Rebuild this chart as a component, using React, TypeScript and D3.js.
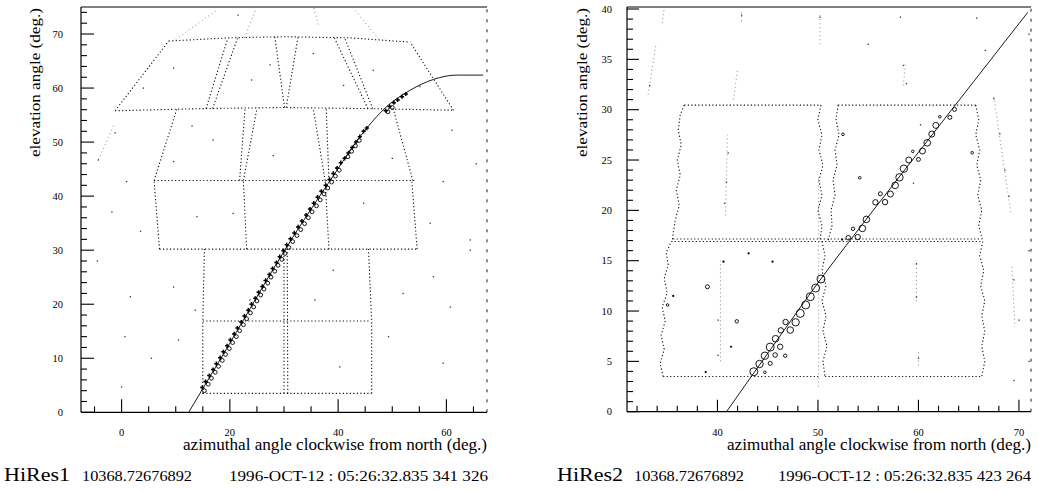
import React from 'react';
import * as d3 from 'd3';

type Pt = [number, number];
type Circ = [number, number, number];

const W = 1039;
const H = 492;

// ---------- Left panel (HiRes1) data ----------
const leftXTickLabels = [0, 20, 40, 60];
const leftYTickLabels = [0, 10, 20, 30, 40, 50, 60, 70];

const leftFit: Pt[] = [
  [12.4, 0], [20, 12.8], [30.5, 30.6], [38.2, 42.4], [45.3, 52.6], [49, 56.6],
  [53.3, 59.6], [57.6, 61.6], [61.9, 62.4], [66.8, 62.4],
];

const leftTrackCircles: Pt[] = [
  [15.3, 4.0], [16.0, 5.2], [16.6, 6.3], [17.3, 7.4], [17.9, 8.5], [18.6, 9.6], [19.2, 10.7],
  [19.9, 11.8], [20.5, 12.9], [21.2, 14.0], [21.8, 15.1], [22.5, 16.2], [23.1, 17.3], [23.8, 18.4],
  [24.4, 19.5], [25.0, 20.6], [25.7, 21.7], [26.3, 22.8], [27.0, 23.9], [27.6, 25.0], [28.3, 26.1],
  [28.9, 27.2], [29.6, 28.3], [30.2, 29.4], [30.9, 30.5], [31.6, 31.6], [32.4, 32.7], [33.1, 33.8],
  [33.8, 34.9], [34.5, 36.0], [35.2, 37.1], [36.0, 38.2], [36.7, 39.3], [37.4, 40.4], [38.1, 41.5],
  [38.8, 42.6], [39.5, 43.7], [40.2, 44.8], [41.8, 47.3], [42.5, 48.3], [43.2, 49.3], [43.9, 50.3],
  [49.2, 55.6], [50.0, 56.4],
];

const leftTrackCrosses: Pt[] = [
  [14.9, 4.6], [15.5, 5.7], [16.2, 6.8], [16.9, 7.9], [17.5, 9.0], [18.2, 10.1], [18.8, 11.2],
  [19.5, 12.3], [20.1, 13.4], [20.8, 14.5], [21.4, 15.6], [22.1, 16.7], [22.7, 17.8], [23.4, 18.9],
  [24.0, 20.0], [24.7, 21.1], [25.3, 22.2], [26.0, 23.3], [26.6, 24.4], [27.3, 25.5], [27.9, 26.6],
  [28.6, 27.7], [29.2, 28.8], [29.9, 29.9], [30.5, 31.0], [31.2, 32.1], [31.9, 33.2], [32.6, 34.3],
  [33.3, 35.4], [34.1, 36.5], [34.8, 37.6], [35.5, 38.7], [36.2, 39.8], [36.9, 40.9], [37.7, 42.0],
  [38.4, 43.1], [39.1, 44.2], [39.8, 45.2], [40.5, 46.2], [41.2, 47.0], [41.9, 48.0], [42.6, 49.0],
  [43.3, 50.0], [44.0, 51.0], [44.7, 52.0], [45.3, 52.6],
  [48.8, 55.8], [49.5, 56.6], [50.3, 57.3], [51.0, 57.8], [51.8, 58.4], [52.5, 58.9],
];

const leftMirrors: Pt[][] = [
  // lower two rows
  [[15.0, 3.5], [46.2, 3.5]],
  [[15.0, 3.5], [15.0, 16.9], [15.3, 30.2]],
  [[15.0, 16.9], [46.0, 16.9]],
  [[46.2, 3.5], [46.2, 16.9], [45.6, 30.2]],
  [[30.0, 3.5], [30.0, 30.2]],
  [[30.7, 3.5], [30.6, 30.2]],
  // row 30-43
  [[7.0, 30.2], [54.6, 30.2]],
  [[7.0, 30.2], [6.0, 42.9]],
  [[54.6, 30.2], [53.6, 42.9]],
  [[6.0, 42.9], [54.1, 42.9]],
  [[23.1, 30.2], [22.5, 42.9]],
  [[38.3, 30.2], [37.6, 42.9]],
  // row 43-56
  [[6.0, 42.9], [10.2, 56.1]],
  [[53.8, 42.9], [50.2, 56.1]],
  [[22.5, 42.9], [25.0, 56.2]],
  [[21.8, 42.9], [22.8, 56.2]],
  [[37.6, 42.9], [35.4, 56.2]],
  [[38.3, 42.9], [37.8, 56.2]],
  // row 56-69
  [[-1.2, 55.8], [15, 56.2], [30, 56.4], [45, 56.2], [61.3, 55.9]],
  [[8.7, 68.7], [20, 69.3], [30, 69.5], [42, 69.3], [53.3, 68.5]],
  [[-1.2, 55.8], [8.7, 68.7]],
  [[61.3, 55.9], [53.3, 68.5]],
  [[15.6, 56.2], [19.6, 69.2]],
  [[16.8, 56.2], [21.4, 69.2]],
  [[30.1, 56.4], [28.3, 69.5]],
  [[30.4, 56.4], [32.6, 69.5]],
  [[45.5, 56.2], [39.3, 69.3]],
  [[46.4, 56.2], [41.2, 69.3]],
];

const leftFaint: Pt[][] = [
  [[10.0, 69.0], [17.8, 74.6]],
  [[22.7, 69.3], [24.8, 74.6]],
  [[35.5, 74.8], [36.4, 71.5]],
  [[47.5, 69.0], [43.0, 74.6]],
  [[-1.5, 53.0], [-4.3, 46.7]],
];

const leftNoise: Pt[] = [
  [21.5, 73.5], [9.6, 63.7], [-1.2, 51.7], [-4.3, 46.7], [0.9, 42.7], [-1.8, 37.1], [13.9, 36.2],
  [27.4, 64.3], [35.4, 66.4], [46.5, 63.3], [55.1, 60.3], [59.4, 42.7], [64.4, 31.9], [61.0, 52.2],
  [44.7, 38.7], [20.6, 36.8], [16.9, 50.4], [9.6, 46.4], [1.6, 21.4], [0.6, 14.0], [0.0, 4.7],
  [10.5, 13.4], [13.6, 18.9], [39.1, 26.3], [49.3, 14.0], [57.6, 25.1], [59.4, 9.1], [40.3, 8.4],
  [64.4, 30.0], [35.7, 20.8], [23.7, 20.8], [9.6, 23.2], [60.7, 19.5], [4.0, 60.0], [24.0, 61.5],
  [41.0, 60.5], [50.0, 47.0], [28.0, 47.5], [13.0, 53.0], [57.0, 35.0], [-4.5, 28.0], [3.5, 33.5],
  [65.5, 46.0], [52.0, 22.0], [5.5, 10.0],
];

// ---------- Right panel (HiRes2) data ----------
const rightXTickLabels = [40, 50, 60, 70];
const rightYTickLabels = [0, 5, 10, 15, 20, 25, 30, 35, 40];

const rightFit: Pt[] = [
  [40.9, 0], [45.5, 6.5], [50.3, 13.2], [55.5, 20.0], [60.5, 26.4], [65.5, 32.8], [70.87, 39.66],
];

const rightCircles: Circ[] = [
  [43.62, 3.97, 4], [44.19, 4.74, 3.7], [44.72, 5.56, 3.7], [45.25, 6.42, 4], [45.78, 7.25, 3.3],
  [46.24, 6.45, 2.7], [46.31, 8.08, 2.7], [46.78, 8.91, 2.7], [47.24, 8.11, 3.3], [47.78, 8.88, 3.7],
  [48.24, 9.77, 4], [48.78, 10.6, 4], [49.24, 11.42, 4], [49.77, 12.28, 4], [50.3, 13.18, 4],
  [45.25, 4.8, 2], [45.74, 5.63, 2.3], [46.74, 5.56, 1.7], [44.72, 3.91, 1.3], [41.92, 8.98, 1.7],
  [39.0, 12.41, 2], [35.04, 10.6, 1.3],
  [53.02, 17.28, 2.3], [53.49, 18.17, 1.7], [53.96, 17.35, 2.7], [54.42, 18.21, 3.3], [54.82, 19.1, 3.3],
  [55.72, 20.8, 2.7], [56.21, 21.65, 2], [56.68, 20.82, 2.7], [57.21, 21.62, 3], [57.68, 22.48, 3.3],
  [58.11, 23.28, 3.7], [58.55, 24.14, 3.7], [59.04, 25.0, 3], [60.0, 25.06, 2], [59.44, 25.86, 1.3],
  [60.4, 25.89, 3], [60.87, 26.71, 3.3], [61.33, 27.58, 3], [61.73, 28.44, 3], [62.13, 29.3, 1.3],
  [63.13, 29.24, 2], [63.59, 30.03, 2],
  [52.49, 27.55, 1.3], [54.16, 23.24, 1.3], [65.35, 25.72, 1.3],
];

const rightDots: Pt[] = [
  [35.6, 11.5], [41.36, 6.45], [38.83, 3.94], [40.6, 14.9], [43.1, 15.73], [45.48, 14.9], [52.4, 17.1],
];

const rightMirrors: Pt[][] = [
  // lower-left box
  [[34.6, 3.5], [50.1, 3.5]],
  [[34.6, 3.5], [34.3, 4.8], [34.7, 6.2], [34.4, 7.6], [34.8, 9.0], [34.5, 10.4], [35.0, 11.8], [34.7, 13.2], [35.1, 14.6], [34.9, 15.8], [35.4, 16.9]],
  // lower-right box
  [[50.7, 3.5], [66.3, 3.5]],
  [[50.4, 16.9], [50.7, 15.5], [50.4, 14], [50.8, 12.5], [50.4, 11], [50.8, 9.5], [50.5, 8], [50.9, 6.5], [50.5, 5], [50.7, 3.5]],
  [[66.4, 16.9], [66.1, 15.5], [66.5, 14], [66.2, 12.5], [66.6, 11], [66.3, 9.5], [66.6, 8], [66.3, 6.5], [66.6, 5], [66.3, 3.5]],
  // shared middle line
  [[35.4, 16.9], [66.4, 16.9]],
  [[35.6, 17.15], [66.2, 17.15]],
  // upper-left box
  [[36.7, 30.45], [50.3, 30.45]],
  [[36.7, 30.45], [36.3, 29.5], [36.1, 28], [36.4, 26.5], [36.0, 25], [36.3, 23.5], [35.9, 22], [36.2, 20.5], [35.8, 19], [35.6, 17.8], [35.5, 16.9]],
  [[50.3, 30.45], [50.0, 29], [50.4, 27.5], [50.1, 26], [50.5, 24.5], [50.1, 23], [50.4, 21.5], [50.0, 20], [50.4, 18.5], [50.2, 16.9]],
  // upper-right box
  [[52.0, 30.45], [65.7, 30.45]],
  [[52.0, 30.45], [51.8, 29], [52.1, 27.5], [51.7, 26], [51.9, 24.5], [51.5, 23], [51.7, 21.5], [51.3, 20], [51.4, 18.5], [51.0, 16.9]],
  [[65.7, 30.45], [66.0, 29], [65.7, 27.5], [66.1, 26], [65.8, 24.5], [66.2, 23], [65.9, 21.5], [66.3, 20], [66.0, 18.5], [66.4, 16.9]],
];

const rightFaint: Pt[][] = [
  [[50.07, 2.5], [50.07, 23.5]],
  [[40.3, 5.0], [40.3, 15.0]],
  [[40.8, 19.5], [41.0, 27.5]],
  [[41.6, 31.0], [42.0, 34.0]],
  [[42.4, 38.8], [42.4, 39.8]],
  [[33.1, 31.5], [33.9, 36.6]],
  [[34.5, 38.6], [34.7, 40.0]],
  [[58.5, 32.4], [58.7, 34.6]],
  [[59.8, 11.0], [59.8, 15.0]],
  [[60.0, 4.6], [60.0, 6.0]],
  [[67.5, 31.3], [69.2, 19.7]],
  [[69.3, 14.4], [69.6, 8.4]],
  [[50.2, 36.5], [50.2, 39.5]],
];

const rightNoise: Pt[] = [
  [33.25, 32.4], [42.4, 39.4], [50.2, 39.2], [58.2, 39.2], [58.8, 32.6], [65.8, 39.1], [66.65, 35.9],
  [67.5, 31.1], [68.1, 27.6], [68.6, 24.0], [69.0, 21.4], [59.5, 22.7], [40.9, 22.8], [41.06, 25.7],
  [40.7, 20.7], [58.5, 34.4], [59.8, 14.7], [59.8, 11.4], [60.0, 5.3], [69.5, 13.1], [70.0, 9.1],
  [69.5, 3.1], [40.06, 9.1], [40.06, 5.6], [31.4, 4.0], [71.0, 37.5], [71.0, 16.0], [71.0, 5.0],
  [60.2, 28.5], [55.0, 36.5],
];

// ---------- text ----------
const leftFooter = ['HiRes1', '10368.72676892', '1996-OCT-12 : 05:26:32.835 341 326'];
const rightFooter = ['HiRes2', '10368.72676892', '1996-OCT-12 : 05:26:32.835 423 264'];
const xTitle = 'azimuthal angle clockwise from north (deg.)';
const yTitle = 'elevation angle (deg.)';

const FONT = '"Liberation Serif", "DejaVu Serif", serif';

interface PanelProps {
  px: [number, number];
  py: [number, number]; // bottom, top
  xDomain: [number, number];
  yDomain: [number, number];
  xMinorStep: number;
  yMinorStep: number;
  xMajorStep: number;
  yMajorStep: number;
  xLabels: number[];
  yLabels: number[];
  yLabelRight: number;
  yTitleX: number;
  mirrors: Pt[][];
  faint: Pt[][];
  noise: Pt[];
  fit: Pt[];
  circles: Circ[];
  crosses: Pt[];
  dots: Pt[];
  minorLen: number;
  majorLen: number;
}

function Panel(p: PanelProps) {
  const x = d3.scaleLinear().domain(p.xDomain).range(p.px);
  const y = d3.scaleLinear().domain(p.yDomain).range(p.py);
  const line = d3.line<Pt>().x((d) => x(d[0])).y((d) => y(d[1]));
  const curve = d3.line<Pt>().x((d) => x(d[0])).y((d) => y(d[1])).curve(d3.curveMonotoneX);
  const [xl, xr] = p.px;
  const [yb, yt] = p.py;

  const eps = 1e-6;
  const xTicks = d3.range(Math.ceil(p.xDomain[0] / p.xMinorStep) * p.xMinorStep, p.xDomain[1] + eps, p.xMinorStep);
  const yTicks = d3.range(Math.ceil(p.yDomain[0] / p.yMinorStep) * p.yMinorStep, p.yDomain[1] + eps, p.yMinorStep);
  const isMajor = (v: number, s: number) => Math.abs(v / s - Math.round(v / s)) < 1e-6;

  return (
    <g>
      {/* frame */}
      <line x1={xl} x2={xr} y1={yb} y2={yb} stroke="#000" strokeWidth={1.2} />
      <line x1={xl} x2={xl} y1={yb} y2={yt} stroke="#000" strokeWidth={1.2} />
      <line x1={xl} x2={xr} y1={yt} y2={yt} stroke="#000" strokeWidth={1} />
      <line x1={xr} x2={xr} y1={yb} y2={yt} stroke="#000" strokeWidth={0.9} strokeDasharray="3 7" />

      {/* ticks */}
      {xTicks.map((v, i) => (
        <line key={'xt' + i} x1={x(v)} x2={x(v)} y1={yb} y2={yb - (isMajor(v, p.xMajorStep) ? p.majorLen : p.minorLen)} stroke="#000" strokeWidth={1.1} />
      ))}
      {yTicks.map((v, i) => (
        <line key={'yt' + i} x1={xl} x2={xl + (isMajor(v, p.yMajorStep) ? p.majorLen : p.minorLen)} y1={y(v)} y2={y(v)} stroke="#000" strokeWidth={1.1} />
      ))}
      {p.xLabels.map((v) => (
        <text key={'xl' + v} x={x(v)} y={436} textAnchor="middle" fontFamily={FONT} fontSize={10.5}>{v}</text>
      ))}
      {p.yLabels.map((v) => (
        <text key={'yl' + v} x={p.yLabelRight} y={y(v) + 3.5} textAnchor="end" fontFamily={FONT} fontSize={10.5}>{v}</text>
      ))}

      {/* titles */}
      <text x={xr - 304} y={450} fontFamily={FONT} fontSize={16} textLength={304} lengthAdjust="spacingAndGlyphs">{xTitle}</text>
      <text transform={`translate(${p.yTitleX},157) rotate(-90)`} fontFamily={FONT} fontSize={15.5} textLength={149} lengthAdjust="spacingAndGlyphs">{yTitle}</text>

      {/* mirror outlines */}
      {p.mirrors.map((m, i) => (
        <path key={'m' + i} d={line(m) || ''} fill="none" stroke="#111" strokeWidth={1.1} strokeDasharray="1.2 2.3" />
      ))}
      {p.faint.map((m, i) => (
        <path key={'f' + i} d={line(m) || ''} fill="none" stroke="#444" strokeWidth={0.9} strokeDasharray="1 3" opacity={0.7} />
      ))}
      {p.noise.map((d, i) => (
        <rect key={'n' + i} x={x(d[0]) - 0.6} y={y(d[1]) - 0.6} width={1.3} height={1.3} fill="#333" />
      ))}

      {/* fit */}
      <path d={curve(p.fit) || ''} fill="none" stroke="#000" strokeWidth={0.9} />

      {/* data */}
      {p.circles.map((c, i) => (
        <circle key={'c' + i} cx={x(c[0])} cy={y(c[1])} r={c[2]} fill="none" stroke="#000" strokeWidth={0.9} />
      ))}
      {p.crosses.map((c, i) => {
        const cx = x(c[0]);
        const cy = y(c[1]);
        return (
          <path key={'x' + i} d={`M${cx - 2.1},${cy}H${cx + 2.1}M${cx},${cy - 2.1}V${cy + 2.1}`} stroke="#000" strokeWidth={1.5} fill="none" />
        );
      })}
      {p.dots.map((d, i) => (
        <circle key={'d' + i} cx={x(d[0])} cy={y(d[1])} r={1.1} fill="#000" />
      ))}
    </g>
  );
}

function Footer({ texts, xs, lens, y }: { texts: string[]; xs: number[]; lens: number[]; y: number }) {
  return (
    <g fontFamily={FONT}>
      <text x={xs[0]} y={y} fontSize={18.5} textLength={lens[0]} lengthAdjust="spacingAndGlyphs">{texts[0]}</text>
      <text x={xs[1]} y={y} fontSize={14.5} textLength={lens[1]} lengthAdjust="spacingAndGlyphs">{texts[1]}</text>
      <text x={xs[2]} y={y} fontSize={14.5} textLength={lens[2]} lengthAdjust="spacingAndGlyphs">{texts[2]}</text>
    </g>
  );
}

export default function App() {
  const leftCircles: Circ[] = leftTrackCircles.map((d) => [d[0], d[1], 1.9]);
  return (
    <svg width={W} height={H} viewBox={`0 0 ${W} ${H}`} style={{ position: 'absolute', left: 0, top: 0, background: '#fff' }}>
      <rect x={0} y={0} width={W} height={H} fill="#fff" />
      <Panel
        px={[81, 487]}
        py={[412.3, 7]}
        xDomain={[-7.5, 67.5]}
        yDomain={[0, 75]}
        xMinorStep={5}
        yMinorStep={2}
        xMajorStep={20}
        yMajorStep={10}
        xLabels={leftXTickLabels}
        yLabels={leftYTickLabels}
        yLabelRight={63}
        yTitleX={40}
        mirrors={leftMirrors}
        faint={leftFaint}
        noise={leftNoise}
        fit={leftFit}
        circles={leftCircles}
        crosses={leftTrackCrosses}
        dots={[]}
        minorLen={6}
        majorLen={13}
      />
      <Panel
        px={[627, 1031]}
        py={[411.7, 7]}
        xDomain={[31, 71.2]}
        yDomain={[0, 40.2]}
        xMinorStep={2}
        yMinorStep={1}
        xMajorStep={10}
        yMajorStep={5}
        xLabels={rightXTickLabels}
        yLabels={rightYTickLabels}
        yLabelRight={612}
        yTitleX={587}
        mirrors={rightMirrors}
        faint={rightFaint}
        noise={rightNoise}
        fit={rightFit}
        circles={rightCircles}
        crosses={[]}
        dots={rightDots}
        minorLen={6}
        majorLen={12}
      />
      <Footer texts={leftFooter} xs={[4, 82, 229]} lens={[66, 110, 259]} y={481} />
      <Footer texts={rightFooter} xs={[557, 634, 778]} lens={[66, 110, 253]} y={481} />
    </svg>
  );
}
